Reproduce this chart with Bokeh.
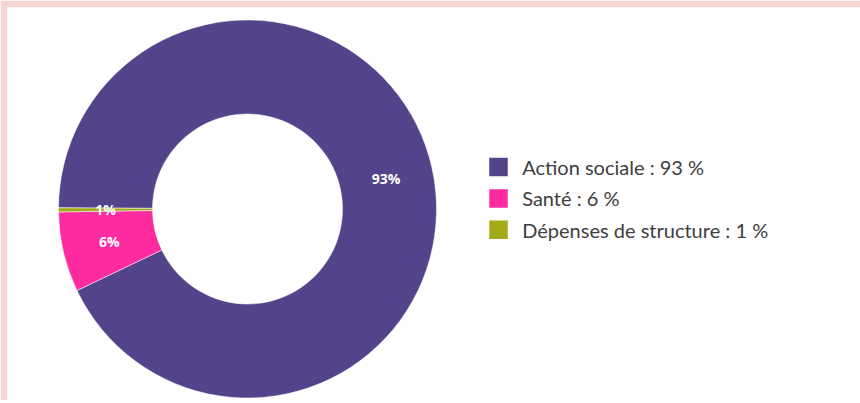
import numpy as np
from bokeh.plotting import figure
from bokeh.models import Range1d, ColumnDataSource
from bokeh.core.properties import value
from bokeh.embed import file_html
from bokeh.resources import INLINE

# ---- data ----
categories = ["Action sociale", "Santé", "Dépenses de structure"]
label_values = [93, 6, 1]              # percentages as printed
slice_shares = [92.8, 6.85, 0.35]      # slice sizes as drawn in the picture
colors = ["#52438a", "#fe2aa0", "#a4ab1a"]

# ---- layout params ----
W, H = 860, 400          # slightly shorter than the window to avoid overflow
band = 7
band_color = "#f6d5d3"
top_y = 403              # image row 0 maps to y=403
cx, cy = 247, 194.5
r_out, r_in = 189, 95
start_deg = 179.64  # clockwise start (left side)

p = figure(width=W, height=H, output_backend="svg", toolbar_location=None,
           x_range=Range1d(band, W), y_range=Range1d(top_y - H, top_y - band),
           min_border_left=band, min_border_top=band,
           min_border_right=0, min_border_bottom=0)
p.axis.visible = False
p.grid.visible = False
p.outline_line_color = None
p.background_fill_color = "white"
p.border_fill_color = band_color

shares = np.array(slice_shares) / np.sum(slice_shares)
cum = np.concatenate([[0], np.cumsum(shares)])
start = np.deg2rad(start_deg)
ends = start - cum[:-1] * 2 * np.pi
begins = start - cum[1:] * 2 * np.pi

src = ColumnDataSource(dict(start=begins, end=ends, color=colors,
                            mid=(begins + ends) / 2,
                            lbl=[f"{v}%" for v in label_values]))
p.annular_wedge(x=cx, y=cy, inner_radius=r_in, outer_radius=r_out,
                start_angle="start", end_angle="end", fill_color="color",
                line_color="white", line_width=0.5, source=src)

r_mid = (r_in + r_out) / 2
src.data["lx"] = list(cx + r_mid * np.cos(src.data["mid"]))
src.data["ly"] = list(cy + r_mid * np.sin(src.data["mid"]))
p.text(x="lx", y="ly", text="lbl", source=src, text_color="white",
       text_font=value("Open Sans"), text_font_style="bold",
       text_font_size="14px", text_align="center", text_baseline="middle")

# legend drawn manually
leg_x, leg_y0, leg_pitch, sq = 498, 236.5, 31.4, 18.5
ly = [leg_y0 - i * leg_pitch for i in range(len(categories))]
leg = ColumnDataSource(dict(x=[leg_x] * len(categories), y=ly, color=colors,
                            tx=[leg_x + 23.7] * len(categories),
                            txt=[f"{c} : {v}  %" for c, v in zip(categories, label_values)]))
p.rect(x="x", y="y", width=sq, height=sq, fill_color="color", line_color=None, source=leg)
p.text(x="tx", y="y", text="txt", source=leg, text_color="#404040",
       text_font=value("Lato"), text_font_size="20px", text_baseline="middle")

open("out.html", "w").write(file_html(p, INLINE))
